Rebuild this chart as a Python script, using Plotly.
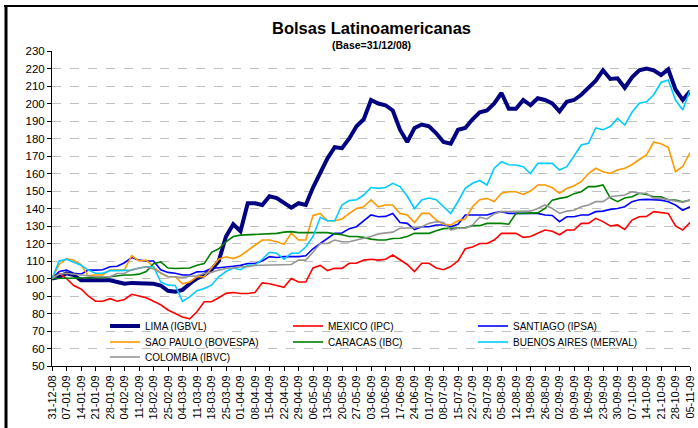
import plotly.graph_objects as go

# Tick labels (one every 5 trading days)
dates = ["31-12-08","07-01-09","14-01-09","21-01-09","28-01-09","04-02-09","11-02-09","18-02-09",
         "25-02-09","04-03-09","11-03-09","18-03-09","25-03-09","01-04-09","08-04-09","15-04-09",
         "22-04-09","29-04-09","06-05-09","13-05-09","20-05-09","27-05-09","03-06-09","10-06-09",
         "17-06-09","24-06-09","01-07-09","08-07-09","15-07-09","22-07-09","29-07-09","05-08-09",
         "12-08-09","19-08-09","26-08-09","02-09-09","09-09-09","16-09-09","23-09-09","30-09-09",
         "07-10-09","14-10-09","21-10-09","28-10-09","05-11-09"]

# Index values (base = 100 on 31/12/08), sampled twice per labelled week
lima = [100,101,103,102,99,99,98.5,99,99,98,
        97,97.5,97.5,97,97,96,93,92.5,93.5,97,
        100,102,105,110,124,131,127,143,143,142,
        147,146,143,140.5,143,142,152,160,168.7,175,
        174.5,180,187,191,202,200,199,196,185,178,
        186,188,187,183,178,177,185,186,191,195,
        196,200,206,197,197,202,199,203,202,200,
        195.5,201,202,205,208.7,213,219,214,214.4,209,
        215,219,220,219,216.3,219.5,208,202,207]

mexico = [100,103,100,96,94,90,87,87,88.5,87,
          88,91,90,89,87,85,82,80,78,77,
          81,86.7,86.7,89,91.5,92,91.4,91.4,92,97.5,
          97,96,95,100,98,98,106,107.5,104.5,105.8,
          105.8,108.7,108.7,110.5,111,110.5,111,113.4,110.5,108,
          104,108.7,108.7,106,105,106.8,110,117,118,120,
          120,122,125.8,125.8,125.8,123.5,124,125.8,127.7,127,
          125,127.7,127.7,131.5,131.5,134.4,132.5,130,130.6,128,
          133.4,135.3,135.5,138.2,137.8,137.2,130,127.7,132]

santiago = [100,104,104.8,103,102.5,104.8,104.8,105,106.7,107,
            109,112,110.5,110,110,105,103.5,103,102,102,
            103.8,104,105.7,106,106.7,107,107.5,108.6,108.6,110,
            112.5,112,112.5,112.5,112.5,113,117,120,123,125.8,
            126,128.5,129.6,133,136.3,135.3,135.5,137.2,132,131.5,
            128,129.6,129.6,130.6,130.6,129.6,131,136.3,136.3,136.5,
            136.3,137.5,138.2,137.2,137.2,137.2,137.2,137.2,136.3,136,
            132.5,135.3,135.3,136.3,136.3,138.2,138.5,139.5,140,141,
            143.9,145,145.2,145,144.8,143.9,142,139,141]

sao_paulo = [100,108,111.4,110.5,108,101.5,102,102,104.8,104.8,
             105,113,110,110.5,107,103,101,101,97,98,
             101,101,106,111,112.4,111.4,113,116.2,119,122,
             122,121,119.5,125.8,122,122,136,137.2,133,133,
             134,137.2,140,141,144.9,141,142,142,137.2,136.3,
             132,137.2,137.2,133.4,131,130.6,133,134,141,145,
             145.8,144,148.7,149.6,149.6,148,150,153.4,153.4,152,
             148.7,151.5,153,155.3,160,163,161,160,162,163,
             165,168,170.6,178,177,175,161,164,172]

caracas = [100,100,100.3,100.4,100.4,100.4,100.5,100.5,101,101.5,
           102,102,102.5,104,108.5,109.5,106,105.7,105.7,106,
           107.6,108.5,115,117,121,124,124.8,125,125.5,125.7,
           125.8,125.8,126.5,126.8,126.2,126.2,126.2,126.2,126.2,125.5,
           125,124,124,123.5,122.5,122,122,122.9,123,124,
           125.8,125.8,125.8,127.3,128.5,128.7,128.7,129,130.2,130.2,
           131.5,131.5,131.5,131,137.2,137.2,137.5,137.5,140,144.8,
           145.8,146.5,148.5,149.6,152.5,152.5,153.5,146,143.9,146,
           146.7,148.7,148,146.7,146.7,145,144.8,143.9,144.8]

buenos_aires = [100,110,111,109.5,107.6,104.8,103,103,104.5,104.5,
                104.8,104.8,106,106.7,106.7,98,96.2,96,87,89.5,
                93,94.3,96.2,101,104,106,105,107.6,107.6,111,
                115,114.4,111,114.4,114.4,118,124,135,133,133,
                142,144.5,145,147.7,152,151.5,152,154.4,152.5,147,
                140,144.9,146,145,141,137.2,144,151.5,154.4,156,
                153.4,163,166.8,165,164.9,163.9,160,165.8,165.8,165.8,
                162,163.9,170,176.3,177.2,186,185,186.8,191.5,187.7,
                195,200.1,201,205,212,213.4,202,196.3,207.7]

colombia = [100,102.5,103,102.5,102,101.5,101,101,101,102.9,
            103,105,106,106.7,105.5,103,101,101,100.5,101.3,
            101.5,102.9,103.5,104.8,105.7,106,106.7,106.7,107.5,107.6,
            107.7,107.7,107.7,108,110.5,110.5,115,120,120,122,
            121,121,122,123,124,125.5,125.8,126.5,128.7,128.7,
            129,129.6,131.5,132.4,132,127.7,128.7,128.7,130.6,135,
            134,137,138.2,138.2,138.2,138.2,138.5,140,142,140,
            137.2,138.5,139,141,142,143.9,143.9,146.7,147,147.7,
            149.6,148.7,148.7,145.8,145.8,145,143.9,143.5,144.8]

series = [
    ("LIMA (IGBVL)", lima, "#000080", 4),
    ("MEXICO (IPC)", mexico, "#FF0000", 1.6),
    ("SANTIAGO (IPSA)", santiago, "#0000FF", 1.6),
    ("SAO PAULO (BOVESPA)", sao_paulo, "#FF9900", 1.6),
    ("CARACAS (IBC)", caracas, "#008000", 1.6),
    ("BUENOS AIRES (MERVAL)", buenos_aires, "#00CCFF", 1.6),
    ("COLOMBIA (IBVC)", colombia, "#969696", 1.6),
]

W, H = 698, 428
ML, MR, MT, MB = 52, 8, 51, 62
PW, PH = W - ML - MR, H - MT - MB


def px_x(px):
    return (px - ML) / PW


def px_y(py):
    return (H - MB - py) / PH


fig = go.Figure()
n_labels = len(dates) - 1
for name, vals, color, w in series:
    step = n_labels / (len(vals) - 1)
    xs = [i * step for i in range(len(vals))]
    fig.add_trace(go.Scatter(x=xs, y=vals, mode="lines", name=name,
                             line=dict(color=color, width=w), showlegend=False))

FONT = "Liberation Sans, Arial, sans-serif"

# Legend drawn as a 3-column key (line sample + label) inside the plot area
LEG_COL_X = [110, 293, 478]
LEG_ROW_Y = [326, 342, 357]
leg_shapes = [dict(type="rect", xref="paper", yref="paper", layer="between",
                   x0=px_x(100), x1=px_x(648), y0=px_y(318), y1=px_y(364),
                   fillcolor="white", line=dict(width=0))]
leg_ann = []
for i, (name, _, color, w) in enumerate(series):
    cx = LEG_COL_X[i % 3]
    cy = LEG_ROW_Y[i // 3]
    leg_shapes.append(dict(type="line", xref="paper", yref="paper", layer="above",
                           x0=px_x(cx), x1=px_x(cx + 30), y0=px_y(cy), y1=px_y(cy),
                           line=dict(color=color, width=w)))
    leg_ann.append(dict(text=name, x=px_x(cx + 33), y=px_y(cy), xref="paper", yref="paper",
                        xanchor="left", yanchor="middle", showarrow=False,
                        font=dict(size=10, family=FONT, color="black")))

fig.update_layout(
    width=W, height=H,
    margin=dict(l=ML, r=MR, t=MT, b=MB, autoexpand=False),
    paper_bgcolor="white", plot_bgcolor="white",
    font=dict(family=FONT, color="black"),
    hovermode=False,
    showlegend=False,
    xaxis=dict(range=[0, n_labels], tickmode="array",
               tickvals=list(range(len(dates))), ticktext=dates,
               tickangle=-90, tickfont=dict(size=11, family=FONT),
               ticks="outside", ticklen=4, tickcolor="black",
               showline=True, linecolor="black", linewidth=1,
               showgrid=False, zeroline=False, automargin=False),
    yaxis=dict(range=[50, 230], dtick=10, tick0=50,
               tickfont=dict(size=11.5, family=FONT),
               ticks="outside", ticklen=4, tickcolor="black",
               showline=True, linecolor="black", linewidth=1,
               showgrid=True, gridcolor="#C0C0C0", griddash="dash", gridwidth=1,
               zeroline=False, automargin=False),
    annotations=[
        dict(text="<b>Bolsas Latinoamericanas</b>", x=px_x(372), y=px_y(28),
             xref="paper", yref="paper", showarrow=False,
             font=dict(size=16.5, family=FONT), yanchor="middle"),
        dict(text="<b>(Base=31/12/08)</b>", x=px_x(372), y=px_y(45),
             xref="paper", yref="paper", showarrow=False,
             font=dict(size=10.5, family=FONT), yanchor="middle"),
    ] + leg_ann,
    shapes=leg_shapes + [
        dict(type="line", xref="paper", yref="paper",
             x0=px_x(6), x1=px_x(6), y0=px_y(5), y1=px_y(430),
             line=dict(color="black", width=3)),
        dict(type="line", xref="paper", yref="paper",
             x0=px_x(4), x1=px_x(700), y0=px_y(6), y1=px_y(6),
             line=dict(color="black", width=2)),
    ],
)

fig.write_html("out.html", config={"displayModeBar": False, "staticPlot": True},
               post_script="document.body.style.margin='0';")
